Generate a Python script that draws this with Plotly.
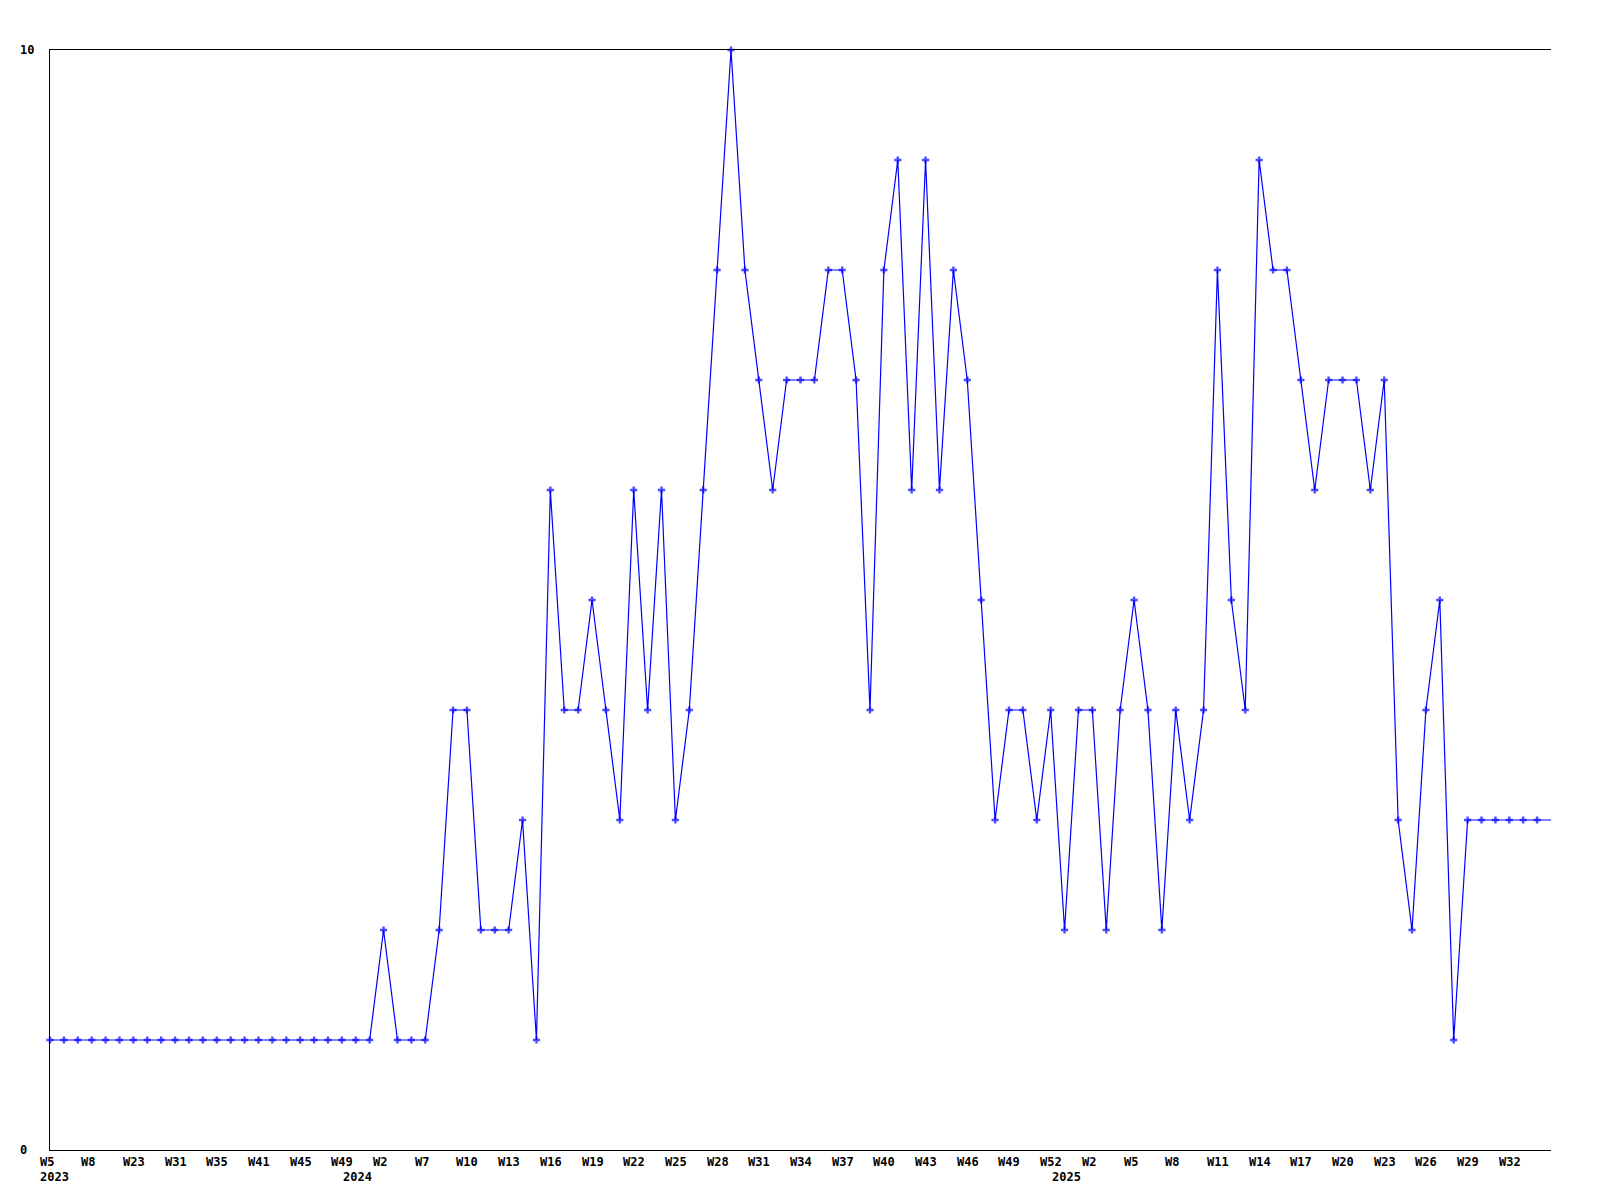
import plotly.graph_objects as go

# ---- data -------------------------------------------------------------
weeks_2023 = ["W5", "W6", "W7", "W8", "W12", "W18", "W23", "W26", "W29", "W31",
              "W32", "W34", "W35", "W37", "W39", "W41", "W42", "W43", "W45", "W46",
              "W47", "W49", "W51", "W52"]
weeks_2024 = ["W2", "W4", "W5", "W7"] + [f"W{i}" for i in range(8, 54)]
weeks_2025 = [f"W{i}" for i in range(1, 36)]

values_2023 = [1] * 24
values_2024 = [2, 1, 1, 1, 2, 4, 4, 2, 2, 2, 3, 1, 6, 4, 4, 5, 4, 3, 6, 4,
               6, 3, 4, 6, 8, 10, 8, 7, 6, 7, 7, 7, 8, 8, 7, 4, 8, 9, 6, 9,
               6, 8, 7, 5, 3, 4, 4, 3, 4, 2]
values_2025 = [4, 4, 2, 4, 5, 4, 2, 4, 3, 4, 8, 5, 4, 9, 8, 8, 7, 6, 7, 7,
               7, 6, 7, 3, 2, 4, 5, 1, 3, 3, 3, 3, 3, 3, 3]

years = ["2023", "2024", "2025"]
LABEL_STEP = 3

# ---- build ------------------------------------------------------------
categories, labels, values, year_of = [], [], [], []
for yr, wk, vals in zip(years, [weeks_2023, weeks_2024, weeks_2025],
                        [values_2023, values_2024, values_2025]):
    for w, v in zip(wk, vals):
        categories.append(f"{yr}-{w}")
        labels.append(w)
        values.append(v)
        year_of.append(yr)

n = len(categories)
marker_sizes = [6] * (n - 1) + [0]

fig = go.Figure(go.Scatter(
    x=categories, y=values, mode="lines+markers",
    line=dict(color="#0000FF", width=1.2),
    marker=dict(symbol="cross", size=marker_sizes, color="#0000FF",
                line=dict(width=0)),
    cliponaxis=False, hoverinfo="x+y",
))

font = dict(family="DejaVu Sans Mono", size=12, color="black", weight="bold")
ann = []
shown_years = set()
for i in range(0, n - 1, LABEL_STEP):
    ann.append(dict(x=categories[i], xref="x", y=0, yref="paper",
                    text=labels[i], showarrow=False, font=font,
                    xanchor="left", yanchor="middle", xshift=-12.5, yshift=-12))
    yr = year_of[i]
    if yr not in shown_years:
        first = len(shown_years) == 0
        shown_years.add(yr)
        ann.append(dict(x=categories[i], xref="x", y=0, yref="paper",
                        text=yr, showarrow=False, font=font,
                        xanchor="left" if first else "right",
                        yanchor="middle",
                        xshift=-12.5 if first else -9.5, yshift=-27))

for v in [0, 10]:
    ann.append(dict(x=0, xref="paper", y=v, yref="y", text=str(v),
                    showarrow=False, font=font, xanchor="left",
                    yanchor="middle", xshift=-32))

# page body has an 8px default margin; compensate so the plot lands at 50px
fig.update_layout(
    width=1584, height=1184,
    margin=dict(l=42, r=41, t=42, b=42),
    paper_bgcolor="white", plot_bgcolor="white",
    showlegend=False,
    annotations=ann,
    xaxis=dict(type="category", categoryorder="array", categoryarray=categories,
               range=[0, n - 1], showline=True, mirror=True, linecolor="black",
               linewidth=1, showgrid=False, zeroline=False,
               showticklabels=False, ticks=""),
    yaxis=dict(range=[0, 10], showline=True, linecolor="black", linewidth=1,
               showgrid=False, zeroline=False, showticklabels=False, ticks=""),
)

fig.write_html("out.html")
